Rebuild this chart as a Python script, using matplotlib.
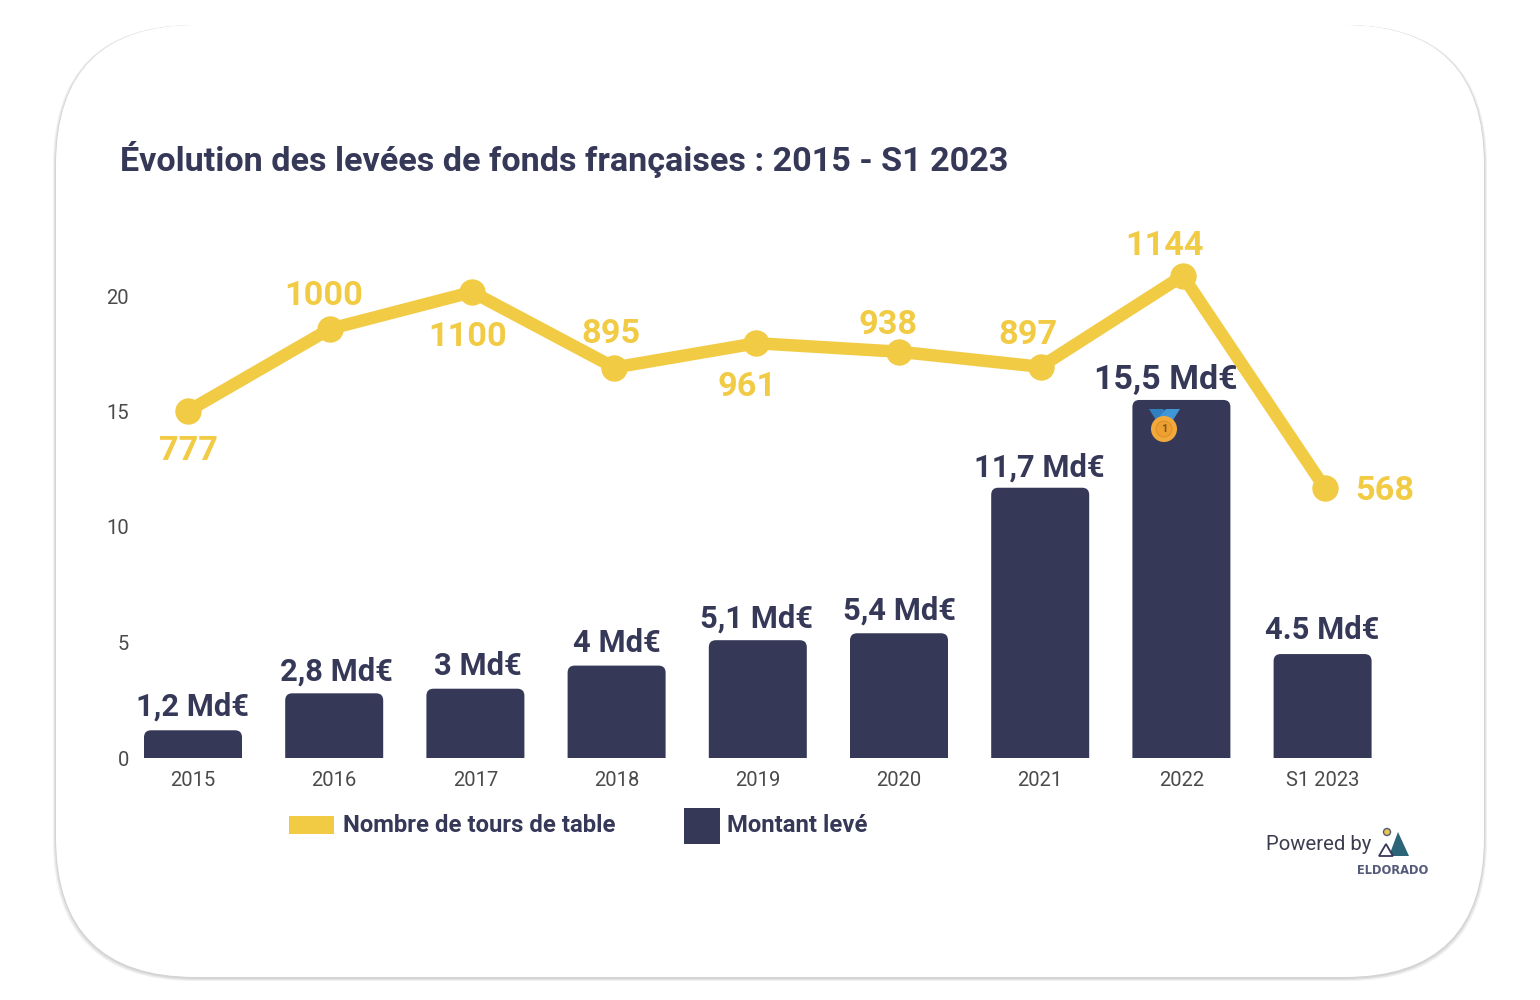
import matplotlib
matplotlib.use('Agg')
import matplotlib.pyplot as plt
from matplotlib.patches import FancyBboxPatch, Rectangle, Polygon, Circle

plt.rcParams['font.family'] = ['Roboto', 'DejaVu Sans']

# data
years = ['2015', '2016', '2017', '2018', '2019', '2020', '2021', '2022', 'S1 2023']
montant = [1.2, 2.8, 3.0, 4.0, 5.1, 5.4, 11.7, 15.5, 4.5]
montant_labels = ['1,2 Md€', '2,8 Md€', '3 Md€', '4 Md€', '5,1 Md€', '5,4 Md€', '11,7 Md€', '15,5 Md€', '4.5 Md€']
tours = [777, 1000, 1100, 895, 961, 938, 897, 1144, 568]
yticks = [0, 5, 10, 15, 20]

# label offsets in pixels, (right, up)
tours_offsets = [(0, -36), (-6, 36), (-5, -41), (-3, 37), (-9, -40), (-10, 30), (-13, 35), (-18, 33), (60, 0)]
montant_offsets = [(0, 24), (2, 22), (2, 23), (0, 23), (-1, 22), (0, 23), (-1, 20), (-16, 20), (0, 24)]
montant_sizes = [22.2, 22.2, 22.2, 22.2, 22.2, 22.2, 22.2, 24.5, 22.2]

NAVY = '#363858'
YELLOW = '#f2cb45'
W, H = 1540, 1000

fig = plt.figure(figsize=(W / 100, H / 100), dpi=100, facecolor='white')

# full figure axes in pixels, for the card, title, legend and logo
bg = fig.add_axes([0, 0, 1, 1], zorder=0)
bg.set_xlim(0, W)
bg.set_ylim(H, 0)
bg.axis('off')

# soft shadow then the card, heavier towards the bottom
for grow, col in [(3, '#f1f1f1'), (2, '#e4e4e4'), (1, '#d4d4d4')]:
    bg.add_patch(FancyBboxPatch((56 - grow, 25), 1428 + 2 * grow, 953 + grow,
                                boxstyle='round,pad=0,rounding_size=141', fc=col, ec='none'))
bg.add_patch(FancyBboxPatch((56, 25), 1428, 952, boxstyle='round,pad=0,rounding_size=140',
                            fc='white', ec='none'))

bg.text(120, 159, 'Évolution des levées de fonds françaises : 2015 - S1 2023', color=NAVY,
        fontsize=24.6, fontweight='bold', va='center', ha='left')

# legend
bg.add_patch(Rectangle((289, 816), 45, 18, fc=YELLOW, ec='none'))
bg.text(343, 826, 'Nombre de tours de table', color=NAVY, fontsize=17.2, fontweight='bold', va='center')
bg.add_patch(Rectangle((684, 808), 36, 36, fc=NAVY, ec='none'))
bg.text(727, 826, 'Montant levé', color=NAVY, fontsize=17.2, fontweight='bold', va='center')

# powered by + logo
bg.text(1266, 845, 'Powered by', color='#3c3c50', fontsize=14.6, va='center')
bg.add_patch(Circle((1387, 832), 3.5, fc='#e8c552', ec='#555a78', lw=1))
bg.add_patch(Polygon([(1389, 856), (1398, 832), (1409, 856)], fc='#2c6478', ec='none'))
bg.add_patch(Polygon([(1379, 856), (1386, 844), (1393, 856)], fc='white', ec='#363858', lw=1.3))
bg.text(1393, 870, 'ELDORADO', color='#555a78', fontsize=8.3, fontweight='bold', ha='center', va='center',
        family='DejaVu Sans')

# bars
left, right, bottom, top = 122, 1393, 758, 220
pos = [left / W, 1 - bottom / H, (right - left) / W, (bottom - top) / H]
ax = fig.add_axes(pos, zorder=1)
ax.patch.set_alpha(0)
ax.set_xlim((left - 193) / 141.2, (right - 193) / 141.2)
ax.set_ylim(0, (bottom - top) / 23.1)
bar_w = 98 / 141.2
for i, v in enumerate(montant):
    # starts below the axis so only the top corners show rounded
    ax.add_patch(FancyBboxPatch((i - bar_w / 2, -1), bar_w, v + 1,
                                boxstyle='round,pad=0,rounding_size=0.05',
                                mutation_aspect=141.2 / 23.1, fc=NAVY, ec='none'))
    ax.annotate(montant_labels[i], (i, v), xytext=(montant_offsets[i][0] * 0.72, montant_offsets[i][1] * 0.72),
                textcoords='offset points', ha='center', va='center', color=NAVY,
                fontsize=montant_sizes[i], fontweight='bold')
ax.set_xticks(range(len(years)))
ax.set_xticklabels(years, fontsize=14.5, color='#4a4a4a')
ax.set_yticks(yticks)
ax.set_yticklabels(yticks, fontsize=14.5, color='#4a4a4a')
ax.tick_params(length=0)
ax.tick_params(axis='x', pad=9)
ax.tick_params(axis='y', pad=-5)
for s in ax.spines.values():
    s.set_visible(False)

# line has its own scale, slightly wider spaced than the bars
ax2 = fig.add_axes(pos, zorder=2)
ax2.patch.set_alpha(0)
ax2.axis('off')
ax2.set_xlim((left - 188) / 142.1, (right - 188) / 142.1)
ax2.set_ylim(777 - (bottom - 411) / 0.3684, 777 + (411 - top) / 0.3684)
ax2.plot(range(len(tours)), tours, color=YELLOW, lw=9, marker='o', ms=18, clip_on=False,
         solid_joinstyle='round')
for i, v in enumerate(tours):
    ax2.annotate(str(v), (i, v), xytext=(tours_offsets[i][0] * 0.72, tours_offsets[i][1] * 0.72),
                 textcoords='offset points', ha='center', va='center_baseline', color=YELLOW,
                 fontsize=24.7, fontweight='bold')

# medal on the 2022 bar
top_layer = fig.add_axes([0, 0, 1, 1], zorder=3)
top_layer.set_xlim(0, W)
top_layer.set_ylim(H, 0)
top_layer.axis('off')
top_layer.add_patch(Polygon([(1149, 409), (1163, 409), (1172, 418), (1166, 425), (1156, 420)], fc='#2f7fc1', ec='none'))
top_layer.add_patch(Polygon([(1180, 409), (1166, 409), (1160, 416), (1164, 425), (1173, 420)], fc='#3f97d8', ec='none'))
top_layer.add_patch(Circle((1164, 429), 13, fc='#f2a93b', ec='none'))
top_layer.add_patch(Circle((1164, 429), 8, fc='#eda030', ec='#d98d25', lw=0.6))
top_layer.text(1164, 429, '1', color='#7a5520', fontsize=8, fontweight='bold', ha='center', va='center')

fig.savefig('out.png', dpi=100, facecolor='white')
